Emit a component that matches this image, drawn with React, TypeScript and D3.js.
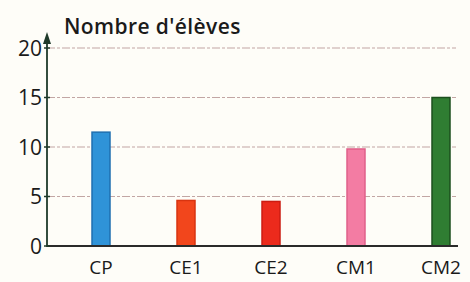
import React from "react";
import * as d3 from "d3";

const categories = ["CP", "CE1", "CE2", "CM1", "CM2"];
const values = [11.5, 4.6, 4.5, 9.8, 15];
const barColors = ["#2f93d8", "#f2461c", "#ec2a1c", "#f37ca3", "#2f7d32"];
const barStrokes = ["#1f6fb0", "#d83410", "#cc1c12", "#e0608a", "#1c4f1e"];
const yTicks = [0, 5, 10, 15, 20];
const title = "Nombre d'élèves";

const W = 470;
const H = 282;

export default function App() {
  const x = d3.scalePoint<string>().domain(categories).range([101, 441]);
  const y = d3.scaleLinear().domain([0, 20]).range([246, 48]);
  const axisX = 47;
  const barW = 18;
  const font = "'Open Sans', 'Noto Sans', sans-serif";

  return (
    <svg
      width={W}
      height={H}
      style={{ position: "absolute", left: 0, top: 0, background: "#fefdf8" }}
      fontFamily={font}
    >
      <rect x={0} y={0} width={W} height={H} fill="#fefdf8" />
      {yTicks
        .filter((t) => t > 0)
        .map((t) => (
          <line
            key={"g" + t}
            x1={axisX}
            x2={456}
            y1={y(t)}
            y2={y(t)}
            stroke="#c2a6a4"
            strokeWidth={1.1}
            strokeDasharray="8 2 3 2"
          />
        ))}
      {categories.map((c, i) => (
        <rect
          key={c}
          x={(x(c) as number) - barW / 2}
          y={y(values[i])}
          width={barW}
          height={y(0) - y(values[i])}
          fill={barColors[i]}
          stroke={barStrokes[i]}
          strokeWidth={1.5}
        />
      ))}
      <line x1={axisX} x2={458} y1={y(0)} y2={y(0)} stroke="#2a2a2a" strokeWidth={2} />
      <line x1={axisX} x2={axisX} y1={y(0) + 1} y2={40} stroke="#1f3a2a" strokeWidth={1.8} />
      <path d={`M${axisX - 4},${44} L${axisX},${32} L${axisX + 4},${44} Z`} fill="#1f3a2a" />
      {yTicks.map((t) => (
        <g key={"t" + t}>
          <line x1={axisX - 3} x2={axisX + 3} y1={y(t)} y2={y(t)} stroke="#1f3a2a" strokeWidth={1.5} />
          <text
            x={axisX - 5}
            y={y(t)}
            dy="0.36em"
            textAnchor="end"
            fontSize={21}
            fill="#1a1a1a"
          >
            {t}
          </text>
        </g>
      ))}
      {categories.map((c) => (
        <text
          key={"l" + c}
          x={x(c) as number}
          y={274}
          textAnchor="middle"
          fontSize={19}
          fill="#1a1a1a"
        >
          {c}
        </text>
      ))}
      <text x={64} y={34} fontSize={21} fontWeight={600} letterSpacing={0.4} fill="#1a1a1a">
        {title}
      </text>
    </svg>
  );
}
